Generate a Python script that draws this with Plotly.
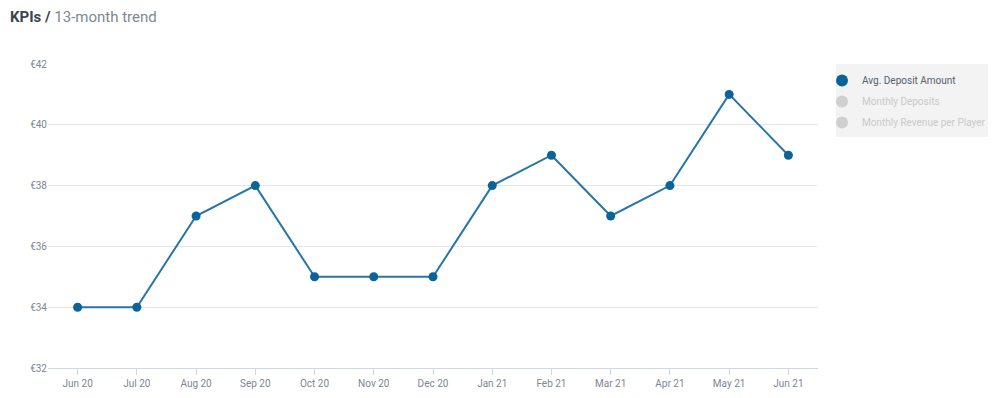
import plotly.graph_objects as go

months = ["Jun 20", "Jul 20", "Aug 20", "Sep 20", "Oct 20", "Nov 20", "Dec 20",
          "Jan 21", "Feb 21", "Mar 21", "Apr 21", "May 21", "Jun 21"]
avg_deposit = [34, 34, 37, 38, 35, 35, 35, 38, 39, 37, 38, 41, 39]
y_ticks = [32, 34, 36, 38, 40, 42]
y_labels = ["€32", "€34", "€36", "€38", "€40", "€42"]
series_names = ["Avg. Deposit Amount", "Monthly Deposits", "Monthly Revenue per Player"]

FONT = "Roboto, Noto Sans, sans-serif"

fig = go.Figure()
fig.add_trace(go.Scatter(
    x=months, y=avg_deposit, mode="lines+markers", name=series_names[0],
    line=dict(color="#2876a8", width=2),
    marker=dict(color="#0b6399", size=9),
    showlegend=False,
))
# legend entries
fig.add_trace(go.Scatter(
    x=[None], y=[None], mode="markers", name=series_names[0],
    marker=dict(color="#0b6399", size=8), legendgroup="g0",
))
for i, nm in enumerate(series_names[1:]):
    fig.add_trace(go.Scatter(
        x=[None], y=[None], mode="markers",
        name=f"<span style='color:#c9c9c9'>{nm}</span>",
        marker=dict(color="#cfcfcf", size=8), legendgroup=f"g{i+1}",
    ))

fig.update_layout(
    width=1000, height=398,
    margin=dict(l=48, r=182, t=64, b=30, autoexpand=False),
    paper_bgcolor="white", plot_bgcolor="white",
    font=dict(family=FONT, size=10, color="#7b8794"),
    showlegend=True,
    legend=dict(xref="container", yref="container", x=0.822, y=1 - 66/398,
                xanchor="left", yanchor="top", tracegroupgap=2,
                bgcolor="rgba(0,0,0,0)", font=dict(size=10, color="#55606b"),
                itemsizing="constant", borderwidth=0, itemwidth=30),
    xaxis=dict(type="category", range=[-0.5, 12.5], showgrid=False,
               showline=True, linecolor="#cbd9e6", linewidth=1,
               ticks="outside", ticklen=6, tickcolor="#cbd9e6",
               tickfont=dict(size=10, color="#7b8794"), fixedrange=True,
               automargin=False),
    yaxis=dict(range=[32, 42], tickmode="array", tickvals=y_ticks, ticktext=y_labels,
               showgrid=True, gridcolor="#e6e6e6", gridwidth=1,
               zeroline=False, showline=False, ticks="",
               tickfont=dict(size=10, color="#7b8794"), fixedrange=True,
               automargin=False),
    shapes=[dict(type="rect", xref="paper", yref="paper",
                 x0=(836 - 48) / 770, x1=(988 - 48) / 770,
                 y0=1 - (137 - 64) / 304, y1=1.0,
                 fillcolor="#f3f3f3", line=dict(width=0), layer="below")],
)

fig.add_annotation(
    text="<b>KPIs /</b> <span style='color:#7d8791'>13-month trend</span>",
    xref="paper", yref="paper", x=-48/770, y=1 + (64 - 17) / 304,
    xanchor="left", yanchor="middle", showarrow=False,
    font=dict(family=FONT, size=15, color="#3b4350"),
    xshift=8,
)

fig.write_html("out.html")
